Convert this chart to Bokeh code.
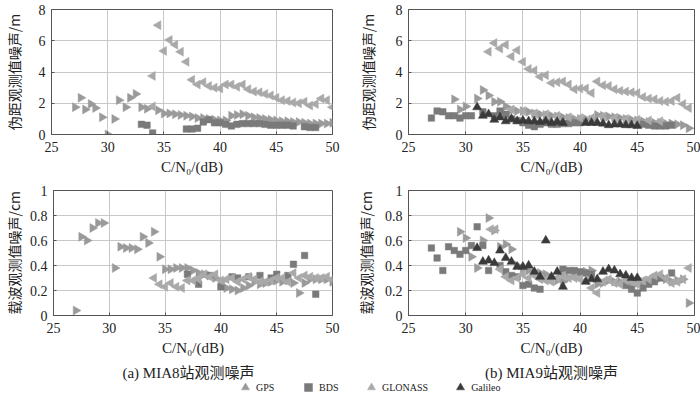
import numpy as np
from bokeh.plotting import figure
from bokeh.layouts import column, row
from bokeh.models import (FixedTicker, CustomJSTickFormatter, Label, Legend,
                          LegendItem, Range1d)
from bokeh.embed import file_html
from bokeh.resources import INLINE

SERIF = "'Liberation Serif', serif"
MIXED = "'Liberation Serif', 'Noto Sans CJK SC', serif"
CJK = "'Noto Sans CJK SC'"

# ---------------- data ----------------
x_ticks = [25, 30, 35, 40, 45, 50]
pr_ticks = [0, 2, 4, 6, 8]
cp_ticks = [0, 0.2, 0.4, 0.6, 0.8, 1.0]
captions = ["(a) MIA8站观测噪声", "(b) MIA9站观测噪声"]
systems = ["GPS", "BDS", "GLONASS", "Galileo"]

# (a) MIA8 pseudo-range noise (m)
a_pr_gps_x = [27.1, 27.6, 28.0, 28.5, 28.9, 29.5, 30.0, 30.6, 31.0, 31.6, 32.0, 32.5, 33.0, 33.5,
              34.5, 35.0, 35.5, 36.0, 36.5, 37.0, 37.5, 38.0, 38.5, 39.0, 39.5, 40.0, 40.5, 41.0,
              41.5, 42.0, 42.5, 43.0, 43.5, 44.0, 44.5, 45.0, 45.5, 46.0, 46.5, 47.0, 47.5, 48.0,
              48.5, 49.0, 49.5, 50.0]
a_pr_gps_y = [1.75, 2.35, 1.6, 1.95, 1.7, 1.1, 0.0, 1.0, 2.2, 1.75, 2.35, 2.6, 1.75, 1.65,
              1.55, 1.35, 1.35, 1.3, 1.25, 1.2, 1.15, 1.05, 1.05, 1.0, 0.95, 0.9, 0.9, 1.2,
              1.25, 1.3, 1.2, 1.1, 1.05, 1.0, 0.95, 0.9, 0.85, 0.85, 0.8, 0.8, 0.75, 0.7,
              0.7, 0.7, 0.7, 0.75]
a_pr_bds_x = [33.0, 33.5, 34.0, 37.0, 37.5, 38.0, 38.5, 39.0, 39.5, 40.0, 40.5, 41.0, 41.5, 42.0,
              42.5, 43.0, 43.5, 44.0, 44.5, 45.0, 45.5, 46.0, 46.5, 47.5, 48.0, 48.5]
a_pr_bds_y = [0.65, 0.6, 0.1, 0.35, 0.35, 0.4, 0.8, 0.95, 0.75, 0.75, 0.65, 0.55, 0.65, 0.7,
              0.7, 0.7, 0.7, 0.65, 0.6, 0.6, 0.6, 0.6, 0.55, 0.5, 0.45, 0.45]
a_pr_glo_x = [34.0, 34.0, 34.5, 35.0, 35.5, 36.0, 36.5, 37.0, 37.5, 38.0, 38.5, 39.0, 39.5, 40.0,
              40.5, 41.0, 41.5, 42.0, 42.5, 43.0, 43.5, 44.0, 44.5, 45.0, 45.5, 46.0, 46.5, 47.0,
              47.5, 48.0, 48.5, 49.0, 49.5, 50.0]
a_pr_glo_y = [1.8, 3.75, 7.0, 5.35, 6.05, 5.75, 5.3, 4.65, 3.5, 3.2, 3.35, 3.1, 3.0, 2.95,
              3.2, 3.2, 3.05, 3.2, 2.9, 2.75, 2.7, 2.6, 2.5, 2.35, 2.2, 2.15, 2.05, 2.0,
              2.1, 1.85, 1.95, 2.3, 2.2, 1.75]
a_pr_gal_x = []
a_pr_gal_y = []

# (b) MIA9 pseudo-range noise (m)
b_pr_gps_x = [29.0, 29.5, 30.0, 31.0, 31.5, 32.0, 32.5, 33.0, 33.5, 34.0, 34.5, 35.0, 35.5, 36.0,
              36.5, 37.0, 37.5, 38.0, 38.5, 39.0, 39.5, 40.0, 40.5, 41.0, 41.5, 42.0, 42.5, 43.0,
              43.5, 44.0, 44.5, 45.0, 45.5, 46.0, 46.5, 47.0, 47.5, 48.0, 48.5, 49.0, 49.5]
b_pr_gps_y = [2.25, 1.6, 1.8, 2.3, 2.85, 2.5, 2.1, 2.1, 1.8, 1.55, 1.5, 1.5, 1.45, 1.35,
              1.3, 1.25, 1.2, 1.15, 1.1, 1.05, 1.0, 1.0, 1.0, 0.95, 1.25, 1.2, 1.15, 1.1,
              1.05, 1.0, 0.95, 0.9, 0.85, 0.8, 0.75, 0.75, 0.7, 0.7, 0.65, 0.6, 0.4]
b_pr_bds_x = [27.0, 27.5, 28.0, 28.5, 29.0, 29.5, 30.0, 30.5, 31.5, 32.5, 33.0, 33.5, 34.0, 34.5,
              35.0, 35.5, 36.0, 36.5, 37.0, 37.5, 38.0, 38.5, 39.0, 39.5, 40.0, 45.5, 46.0, 46.5,
              47.0, 47.5, 48.0]
b_pr_bds_y = [1.05, 1.5, 1.45, 1.2, 1.2, 1.05, 1.2, 1.2, 1.45, 1.2, 1.5, 1.3, 1.0, 0.9,
              0.75, 0.6, 0.5, 0.65, 0.75, 0.65, 0.65, 0.7, 0.7, 0.75, 0.75, 0.65, 0.6, 0.55,
              0.55, 0.55, 0.6]
b_pr_glo_x = [32.0, 32.5, 33.0, 33.5, 34.0, 34.5, 35.0, 35.5, 36.0, 36.5, 37.0, 37.5, 38.0, 38.5,
              39.0, 39.5, 40.0, 40.5, 41.0, 41.5, 42.0, 42.5, 43.0, 43.5, 44.0, 44.5, 45.0, 45.5,
              46.0, 46.5, 47.0, 47.5, 48.0, 48.5, 49.0, 49.5,
              34.0, 35.0, 36.0, 37.0, 38.0, 39.0, 40.0, 41.0, 42.0, 43.0, 44.0, 45.0, 46.0, 47.0]
b_pr_glo_y = [5.3, 5.85, 5.5, 5.75, 5.0, 5.4, 4.65, 4.2, 4.1, 3.7, 3.8, 3.3, 3.35, 3.4,
              3.2, 2.9, 2.95, 2.95, 2.65, 3.4, 3.15, 3.1, 2.9, 2.8, 2.75, 2.7, 2.65, 2.4,
              2.3, 2.25, 2.15, 2.1, 2.15, 2.35, 1.95, 1.7,
              1.6, 1.5, 1.35, 1.3, 1.2, 1.1, 1.05, 1.05, 1.15, 1.05, 1.0, 0.95, 0.9, 0.85]
b_pr_gal_x = [31.0, 31.5, 32.0, 32.5, 33.0, 33.5, 34.0, 34.5, 35.0, 35.5, 36.0, 36.5, 37.0, 37.5,
              38.0, 38.5, 40.5, 41.0, 41.5, 42.0, 42.5, 43.0, 43.5, 44.0, 44.5, 45.0]
b_pr_gal_y = [1.75, 1.2, 1.3, 0.95, 1.1, 0.85, 1.0, 0.85, 0.9, 0.85, 0.85, 0.8, 0.85, 0.75,
              0.8, 0.75, 0.75, 0.75, 0.75, 0.7, 0.6, 0.65, 0.65, 0.6, 0.6, 0.55]

# (a) MIA8 carrier-phase noise (cm)
a_cp_gps_x = [27.0, 27.5, 28.0, 28.5, 29.0, 29.5, 30.5, 31.0, 31.5, 32.0, 32.5, 33.0, 33.5, 34.0,
              34.5, 35.0, 35.5, 36.0, 36.5, 37.0, 37.5, 38.0, 38.5, 39.0, 39.5, 40.0, 40.5, 41.0,
              41.5, 42.0, 42.5, 43.0, 43.5, 44.0, 44.5, 45.0, 45.5, 46.0, 46.5, 47.0, 47.5, 48.0,
              48.5, 49.0, 49.5, 50.0]
a_cp_gps_y = [0.04, 0.63, 0.6, 0.7, 0.74, 0.74, 0.38, 0.55, 0.54, 0.54, 0.53, 0.63, 0.58, 0.67,
              0.47, 0.37, 0.37, 0.38, 0.38, 0.38, 0.36, 0.34, 0.33, 0.32, 0.30, 0.27, 0.22, 0.21,
              0.2, 0.22, 0.24, 0.27, 0.25, 0.26, 0.27, 0.28, 0.27, 0.28, 0.26, 0.18, 0.26, 0.29,
              0.29, 0.29, 0.29, 0.27]
a_cp_bds_x = [37.0, 38.0, 39.0, 40.0, 41.0, 41.5, 42.5, 43.5, 44.5, 45.0, 46.0, 46.5, 47.5, 48.5]
a_cp_bds_y = [0.33, 0.25, 0.32, 0.23, 0.31, 0.3, 0.31, 0.32, 0.3, 0.33, 0.32, 0.41, 0.48, 0.17]
a_cp_glo_x = [34.0, 34.5, 35.0, 35.5, 36.0, 36.5, 37.0, 37.5, 38.0, 38.5, 39.0, 39.5, 40.0, 40.5,
              41.0, 41.5, 42.0, 42.5, 43.0, 43.5, 44.0, 44.5, 45.0, 45.5, 46.0, 46.5, 47.0, 47.5,
              48.0, 48.5, 49.0, 49.5, 50.0]
a_cp_glo_y = [0.3, 0.25, 0.23, 0.26, 0.23, 0.22, 0.28, 0.28, 0.29, 0.33, 0.31, 0.33, 0.28, 0.29,
              0.3, 0.27, 0.29, 0.31, 0.29, 0.27, 0.27, 0.28, 0.3, 0.3, 0.27, 0.34, 0.3, 0.32,
              0.31, 0.3, 0.3, 0.31, 0.29]
a_cp_gal_x = []
a_cp_gal_y = []

# (b) MIA9 carrier-phase noise (cm)
b_cp_gps_x = [29.5, 30.0, 30.5, 31.0, 31.5, 32.0, 32.5, 33.0, 33.5, 34.0, 34.5, 35.0, 35.5, 36.0,
              36.5, 37.0, 37.5, 38.0, 38.5, 39.0, 39.5, 40.0, 40.5, 41.0, 41.5, 42.0, 42.5, 43.0,
              43.5, 44.0, 44.5, 45.0, 45.5, 46.0, 46.5, 47.0, 47.5, 48.0, 48.5, 49.0, 49.5]
b_cp_gps_y = [0.67, 0.62, 0.47, 0.38, 0.6, 0.78, 0.68, 0.55, 0.57, 0.53, 0.4, 0.37, 0.36, 0.35,
              0.34, 0.33, 0.3, 0.28, 0.27, 0.3, 0.33, 0.34, 0.35, 0.36, 0.25, 0.26, 0.28, 0.27,
              0.27, 0.26, 0.25, 0.26, 0.27, 0.28, 0.3, 0.3, 0.29, 0.27, 0.28, 0.29, 0.1]
b_cp_bds_x = [27.0, 27.5, 28.0, 28.5, 29.0, 29.5, 30.0, 30.5, 31.0, 31.5, 32.0, 33.0, 33.5, 34.0,
              34.5, 35.0, 35.5, 36.0, 36.5, 38.5, 39.0, 39.5, 40.0, 40.5, 41.0, 44.0, 44.5, 45.0,
              45.5, 46.0, 46.5, 47.0, 48.0]
b_cp_bds_y = [0.54, 0.46, 0.36, 0.55, 0.52, 0.49, 0.52, 0.56, 0.71, 0.56, 0.36, 0.4, 0.35, 0.32,
              0.31, 0.24, 0.25, 0.22, 0.21, 0.37, 0.36, 0.36, 0.35, 0.34, 0.33, 0.24, 0.21, 0.18,
              0.22, 0.25, 0.27, 0.3, 0.34]
b_cp_glo_x = [32.2, 32.6, 33.0, 33.5, 34.0, 34.5, 35.0, 35.5, 36.0, 36.5, 37.0, 37.5, 38.0, 38.5,
              39.0, 39.5, 40.0, 40.5, 41.0, 41.5, 42.0, 42.5, 43.0, 43.5, 44.0, 44.5, 45.0, 45.5,
              46.0, 46.5, 47.0, 47.5, 48.0, 48.5, 49.0, 49.5]
b_cp_glo_y = [0.69, 0.69, 0.37, 0.31, 0.28, 0.3, 0.33, 0.3, 0.32, 0.29, 0.28, 0.27, 0.3, 0.32,
              0.3, 0.3, 0.29, 0.28, 0.22, 0.18, 0.27, 0.29, 0.26, 0.25, 0.28, 0.27, 0.25, 0.28,
              0.29, 0.32, 0.33, 0.3, 0.26, 0.27, 0.29, 0.38]
b_cp_gal_x = [31.0, 31.5, 32.0, 32.5, 33.0, 33.5, 34.0, 34.5, 35.0, 35.5, 36.0, 36.5, 37.0, 37.5,
              38.0, 38.5, 40.5, 41.0, 41.5, 42.0, 42.5, 43.0, 43.5, 44.0, 44.5, 45.0]
b_cp_gal_y = [0.54, 0.43, 0.44, 0.42, 0.52, 0.46, 0.43, 0.39, 0.39, 0.4, 0.35, 0.31, 0.6, 0.31,
              0.35, 0.23, 0.27, 0.29, 0.29, 0.35, 0.37, 0.36, 0.33, 0.32, 0.3, 0.3]

STYLE = {
    "GPS": dict(marker="triangle", angle=-np.pi / 2, color="#9a9a9a", size=9),
    "BDS": dict(marker="square", angle=0.0, color="#7a7a7a", size=6.5),
    "GLONASS": dict(marker="triangle", angle=np.pi / 2, color="#a9a9a9", size=9),
    "Galileo": dict(marker="triangle", angle=0.0, color="#3a3a3a", size=9),
}

fmt = CustomJSTickFormatter(code="return String(Number(tick.toFixed(1)));")


def panel(series, y_end, y_ticks, ylabel, width, height, bl, br, bt, bb, ystand):
    p = figure(width=width, height=height, output_backend="svg", toolbar_location=None,
               x_range=Range1d(25, 50), y_range=Range1d(0, y_end),
               min_border_left=bl, min_border_right=br, min_border_top=bt,
               min_border_bottom=bb)
    p.outline_line_color = "#555555"
    p.outline_line_width = 1
    p.background_fill_color = "white"
    p.border_fill_color = "white"
    for g in p.grid:
        g.grid_line_color = "#c8c8c8"
        g.grid_line_width = 1
    p.xaxis.ticker = FixedTicker(ticks=x_ticks)
    p.yaxis.ticker = FixedTicker(ticks=y_ticks)
    p.yaxis.formatter = fmt
    for ax in (p.xaxis[0], p.yaxis[0]):
        ax.axis_line_color = "#555555"
        ax.major_tick_in = 3
        ax.major_tick_out = 0
        ax.major_tick_line_color = "#555555"
        ax.minor_tick_line_color = None
        ax.major_label_text_font = SERIF
        ax.major_label_text_font_size = "14px"
        ax.major_label_text_color = "#222222"
        ax.axis_label_text_font_style = "normal"
        ax.axis_label_text_color = "#222222"
    p.xaxis.major_label_standoff = 7
    p.xaxis.axis_label_standoff = 4
    p.yaxis.major_label_standoff = 6
    p.yaxis.axis_label_standoff = ystand
    p.xaxis.axis_label = "C/N₀/(dB)"
    p.xaxis.axis_label_text_font = SERIF
    p.xaxis.axis_label_text_font_size = "15px"
    p.yaxis.axis_label = ylabel
    p.yaxis.axis_label_text_font = CJK
    p.yaxis.axis_label_text_font_size = "14px"
    for name in systems:
        xs, ys = series[name]
        if len(xs) == 0:
            continue
        st = STYLE[name]
        p.scatter(x=xs, y=ys, marker=st["marker"], angle=st["angle"], size=st["size"],
                  fill_color=st["color"], line_color=st["color"], line_width=0.5)
    return p


WL, WR = 350, 350
p1 = panel({"GPS": (a_pr_gps_x, a_pr_gps_y), "BDS": (a_pr_bds_x, a_pr_bds_y),
            "GLONASS": (a_pr_glo_x, a_pr_glo_y), "Galileo": (a_pr_gal_x, a_pr_gal_y)},
           8, pr_ticks, "伪距观测值噪声/m", WL, 180, 45, 18, 9, 46, 12)
p2 = panel({"GPS": (b_pr_gps_x, b_pr_gps_y), "BDS": (b_pr_bds_x, b_pr_bds_y),
            "GLONASS": (b_pr_glo_x, b_pr_glo_y), "Galileo": (b_pr_gal_x, b_pr_gal_y)},
           8, pr_ticks, "伪距观测值噪声/m", WR, 180, 58, 6, 9, 46, 15)
p3 = panel({"GPS": (a_cp_gps_x, a_cp_gps_y), "BDS": (a_cp_bds_x, a_cp_bds_y),
            "GLONASS": (a_cp_glo_x, a_cp_glo_y), "Galileo": (a_cp_gal_x, a_cp_gal_y)},
           1, cp_ticks, "载波观测值噪声/cm", WL, 178, 45, 18, 10, 42, 3)
p4 = panel({"GPS": (b_cp_gps_x, b_cp_gps_y), "BDS": (b_cp_bds_x, b_cp_bds_y),
            "GLONASS": (b_cp_glo_x, b_cp_glo_y), "Galileo": (b_cp_gal_x, b_cp_gal_y)},
           1, cp_ticks, "载波观测值噪声/cm", WR, 178, 58, 6, 10, 42, 6)

# caption + legend strip
STRIP_H = 39
leg = figure(width=WL + WR, height=STRIP_H, output_backend="svg", toolbar_location=None,
             x_axis_type=None, y_axis_type=None, x_range=Range1d(0, 1), y_range=Range1d(0, 1),
             min_border=0)
leg.outline_line_color = None
leg.grid.visible = False
for cap, cx in zip(captions, [188, 551]):
    leg.add_layout(Label(x=cx, y=STRIP_H - 14, x_units="screen", y_units="screen",
                         text=cap, text_align="center", text_baseline="middle",
                         text_font=MIXED, text_font_size="15px", text_color="#222222"))
items = []
for name in systems:
    st = STYLE[name]
    # one off-range point per system so the legend can draw its glyph
    r = leg.scatter(x=[-5], y=[-5], marker=st["marker"], angle=st["angle"], size=st["size"],
                    fill_color=st["color"], line_color=st["color"], line_width=0.5)
    items.append(LegendItem(label=name, renderers=[r]))
legend = Legend(items=items, orientation="horizontal", location=(235, 0),
                border_line_color=None, background_fill_alpha=0,
                label_text_font=SERIF, label_text_font_size="10px",
                label_text_color="#222222", glyph_width=20, glyph_height=20,
                label_standoff=1, spacing=22, padding=0, margin=0)
leg.add_layout(legend, "center")

layout = column(row(p1, p2), row(p3, p4), leg)
open("out.html", "w").write(file_html(layout, INLINE))
